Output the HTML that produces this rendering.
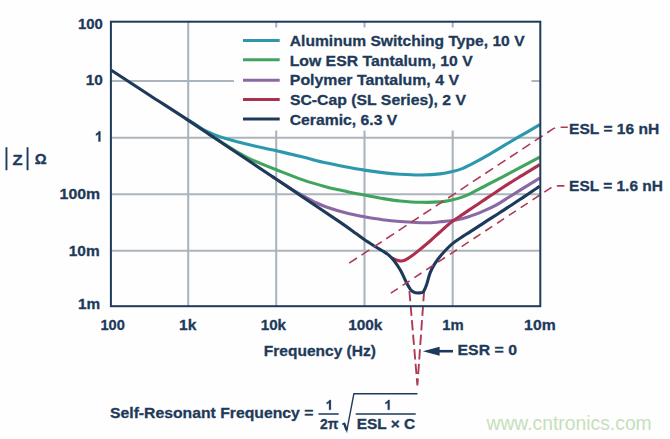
<!DOCTYPE html><html><head><meta charset="utf-8"><title>Impedance vs Frequency</title><style>html,body{margin:0;padding:0;background:#fefefe}svg{display:block}text{font-family:"Liberation Sans",sans-serif}</style></head><body>
<svg width="670" height="439" viewBox="0 0 670 439">
<rect width="670" height="439" fill="#fefefe"/>
<line x1="188.2" y1="21.7" x2="188.2" y2="306.2" stroke="#abb5bd" stroke-width="2.1"/>
<line x1="276.2" y1="21.7" x2="276.2" y2="306.2" stroke="#abb5bd" stroke-width="2.1"/>
<line x1="364.5" y1="21.7" x2="364.5" y2="306.2" stroke="#abb5bd" stroke-width="2.1"/>
<line x1="452.7" y1="21.7" x2="452.7" y2="306.2" stroke="#abb5bd" stroke-width="2.1"/>
<line x1="110.9" y1="81" x2="540.3" y2="81" stroke="#abb5bd" stroke-width="2.1"/>
<line x1="110.9" y1="137.8" x2="540.3" y2="137.8" stroke="#abb5bd" stroke-width="2.1"/>
<line x1="110.9" y1="194.2" x2="540.3" y2="194.2" stroke="#abb5bd" stroke-width="2.1"/>
<line x1="110.9" y1="250.8" x2="540.3" y2="250.8" stroke="#abb5bd" stroke-width="2.1"/>
<rect x="234" y="27.5" width="297.5" height="103" fill="#fefefe"/>
<path d="M409.4,291 L417.4,385.5 M424.1,291 L417.4,385.5" fill="none" stroke="#b03a55" stroke-width="1.9" stroke-dasharray="10.3 4.3"/>
<path d="M186.0,118.8 C187.3,119.5 190.9,121.4 193.7,123.2 C196.5,125.0 199.4,127.5 202.8,129.4 C206.2,131.3 210.4,133.1 214.2,134.6 C218.0,136.1 219.9,136.8 225.6,138.5 C231.3,140.2 240.0,142.6 248.3,144.6 C256.7,146.6 266.6,148.5 275.7,150.6 C284.8,152.7 294.5,155.1 302.8,157.1 C311.1,159.1 318.0,161.1 325.6,162.8 C333.2,164.5 341.9,166.1 348.3,167.3 C354.8,168.5 358.6,169.2 364.3,170.1 C370.0,171.0 376.6,171.9 382.5,172.6 C388.4,173.3 393.6,173.8 400.0,174.2 C406.4,174.6 414.3,175.1 421.0,175.0 C427.7,174.9 434.8,174.5 440.0,173.9 C445.2,173.3 448.7,172.5 452.5,171.6 C456.3,170.7 459.1,169.9 462.8,168.4 C466.5,166.9 470.4,164.8 474.9,162.4 C479.4,160.0 484.8,157.0 489.8,154.1 C494.8,151.2 499.7,148.2 504.7,145.2 C509.7,142.2 514.1,139.6 520.0,136.2 C525.9,132.8 536.5,126.5 539.8,124.6" fill="none" stroke="#2d98ad" stroke-width="3.1" stroke-linejoin="round"/>
<path d="M208.0,133.4 C209.0,134.1 212.2,136.2 214.0,137.3 C215.8,138.4 216.8,138.9 218.7,140.2 C220.6,141.5 222.6,142.9 225.6,144.9 C228.6,146.9 233.1,149.7 236.9,151.9 C240.7,154.1 244.5,156.2 248.3,158.1 C252.1,160.0 255.1,161.2 259.7,163.1 C264.3,165.0 268.5,166.7 275.7,169.5 C282.9,172.3 294.5,177.0 302.8,179.9 C311.1,182.8 318.0,184.7 325.6,186.7 C333.2,188.7 341.9,190.5 348.3,191.9 C354.8,193.3 358.6,194.0 364.3,195.1 C370.0,196.2 376.6,197.5 382.5,198.5 C388.4,199.5 393.6,200.4 400.0,201.0 C406.4,201.6 414.3,202.2 421.0,202.3 C427.7,202.5 434.8,202.3 440.0,201.9 C445.2,201.5 448.7,200.6 452.5,199.8 C456.3,199.0 459.9,197.9 462.8,196.9 C465.7,195.9 466.3,195.6 470.0,193.8 C473.7,192.0 480.4,188.3 485.0,186.0 C489.6,183.7 494.0,181.4 497.3,179.7 C500.6,178.0 501.2,177.6 505.0,175.6 C508.8,173.6 514.2,170.7 520.0,167.6 C525.8,164.5 536.5,158.8 539.8,157.1" fill="none" stroke="#41a45e" stroke-width="3.1" stroke-linejoin="round"/>
<path d="M272.0,176.4 C274.1,177.8 281.1,182.3 284.6,184.6 C288.1,186.9 290.0,188.2 293.0,190.0 C296.0,191.8 299.3,193.7 302.8,195.7 C306.3,197.7 310.4,200.0 314.2,201.8 C318.0,203.6 319.9,204.7 325.6,206.7 C331.3,208.7 341.9,211.9 348.3,213.6 C354.8,215.3 358.6,215.8 364.3,216.8 C370.0,217.8 376.6,218.9 382.5,219.7 C388.4,220.5 392.8,221.0 400.0,221.5 C407.2,222.0 418.9,222.8 425.6,222.8 C432.3,222.9 435.5,222.2 440.0,221.8 C444.5,221.4 448.7,221.1 452.5,220.5 C456.3,219.9 459.9,219.1 462.8,218.4 C465.7,217.7 467.0,217.2 470.0,216.2 C473.0,215.1 477.7,213.4 481.0,212.1 C484.3,210.8 486.8,209.8 490.0,208.2 C493.2,206.6 496.7,204.8 500.0,202.8 C503.3,200.9 505.8,199.1 510.0,196.5 C514.2,193.9 520.0,190.2 525.0,187.1 C530.0,184.0 537.3,179.5 539.8,178.0" fill="none" stroke="#8a68a3" stroke-width="3.1" stroke-linejoin="round"/>
<path d="M391.0,257.6 C391.9,258.0 394.7,259.3 396.5,259.9 C398.3,260.5 399.8,261.2 401.6,261.0 C403.4,260.8 404.8,260.2 407.3,258.8 C409.8,257.4 412.6,255.4 416.4,252.4 C420.2,249.4 426.2,244.4 430.1,241.0 C434.0,237.6 436.3,235.3 440.0,232.0 C443.7,228.7 448.7,224.2 452.5,221.3 C456.3,218.4 459.9,216.3 462.8,214.3 C465.7,212.3 467.1,211.3 470.0,209.4 C472.9,207.5 476.7,204.9 480.0,202.7 C483.3,200.5 486.7,198.2 490.0,196.0 C493.3,193.8 496.7,191.6 500.0,189.4 C503.3,187.2 505.8,185.5 510.0,182.9 C514.2,180.3 520.0,176.6 525.0,173.6 C530.0,170.6 537.3,166.2 539.8,164.7" fill="none" stroke="#ad2f4e" stroke-width="3.1" stroke-linejoin="round"/>
<path d="M111.3,70.3 C117.8,74.5 137.2,87.2 150.0,95.5 C162.8,103.8 174.7,111.3 188.0,120.1 C201.3,128.9 215.3,138.4 230.0,148.2 C244.7,158.0 264.3,171.2 276.0,179.0 C287.7,186.8 289.3,188.1 300.0,195.3 C310.7,202.5 330.6,215.7 340.0,222.1 C349.4,228.5 352.3,230.9 356.4,233.8 C360.5,236.8 361.6,237.7 364.6,239.8 C367.6,241.9 371.4,244.2 374.6,246.2 C377.8,248.2 381.4,250.1 383.8,251.6 C386.2,253.1 387.4,253.9 389.0,255.3 C390.6,256.7 391.8,257.8 393.7,260.2 C395.6,262.6 398.2,266.4 400.3,270.0 C402.4,273.6 404.5,278.7 406.2,282.0 C407.9,285.3 409.3,287.9 410.6,289.6 C411.9,291.3 412.9,291.8 414.2,292.3 C415.5,292.9 417.2,293.0 418.7,292.9 C420.2,292.8 422.0,293.2 423.3,291.8 C424.6,290.4 425.6,287.5 426.7,284.3 C427.8,281.1 428.8,276.3 430.1,272.9 C431.4,269.5 432.8,266.8 434.7,263.8 C436.6,260.8 438.5,258.1 441.5,254.7 C444.5,251.3 448.9,246.6 452.5,243.6 C456.1,240.6 459.9,238.3 462.8,236.4 C465.7,234.5 467.1,233.7 470.0,231.9 C472.9,230.1 476.7,227.6 480.0,225.4 C483.3,223.2 486.7,221.1 490.0,218.9 C493.3,216.8 496.7,214.7 500.0,212.5 C503.3,210.3 505.8,208.7 510.0,206.0 C514.2,203.3 520.0,199.4 525.0,196.1 C530.0,192.8 537.3,187.8 539.8,186.2" fill="none" stroke="#1e3a5a" stroke-width="3.1" stroke-linejoin="round"/>
<path d="M349.1,263.2 L553,128.9 Q556,127.3 560,127.3 L567.8,127.3" fill="none" stroke="#b03a55" stroke-width="1.6" stroke-dasharray="9.4 5.42"/>
<path d="M390.8,293.2 L550,188.4 Q553.5,185.9 558,185.9 L564.4,185.9" fill="none" stroke="#b03a55" stroke-width="1.6" stroke-dasharray="8.4 5.74"/>
<rect x="110.9" y="21.7" width="429.4" height="284.5" fill="none" stroke="#1e3a5a" stroke-width="2"/>
<line x1="243" y1="40.4" x2="279.7" y2="40.4" stroke="#2d98ad" stroke-width="3.0"/>
<line x1="243" y1="59.8" x2="279.7" y2="59.8" stroke="#41a45e" stroke-width="3.0"/>
<line x1="243" y1="80.2" x2="279.7" y2="80.2" stroke="#8a68a3" stroke-width="3.0"/>
<line x1="243" y1="99.4" x2="279.7" y2="99.4" stroke="#ad2f4e" stroke-width="3.0"/>
<line x1="243" y1="119" x2="279.7" y2="119" stroke="#1e3a5a" stroke-width="3.0"/>
<text transform="translate(289.77,45.9) scale(1.0145,1)" font-size="15.4" font-weight="bold" fill="#1e3a5a" stroke="#1e3a5a" stroke-width="0.3">Aluminum Switching Type, 10 V</text>
<text transform="translate(289.66,66) scale(1.0259,1)" font-size="15.4" font-weight="bold" fill="#1e3a5a" stroke="#1e3a5a" stroke-width="0.3">Low ESR Tantalum, 10 V</text>
<text transform="translate(289.81,85.1) scale(1.0326,1)" font-size="15.4" font-weight="bold" fill="#1e3a5a" stroke="#1e3a5a" stroke-width="0.3">Polymer Tantalum, 4 V</text>
<text transform="translate(289.88,105.1) scale(1.0261,1)" font-size="15.4" font-weight="bold" fill="#1e3a5a" stroke="#1e3a5a" stroke-width="0.3">SC-Cap (SL Series), 2 V</text>
<text transform="translate(289.74,124.7) scale(1.0224,1)" font-size="15.4" font-weight="bold" fill="#1e3a5a" stroke="#1e3a5a" stroke-width="0.3">Ceramic, 6.3 V</text>
<text transform="translate(77.99,28.9) scale(0.9684,1)" font-size="15.4" font-weight="bold" fill="#1e3a5a" stroke="#1e3a5a" stroke-width="0.3">100</text>
<text transform="translate(85.79,84.7) scale(1.0000,1)" font-size="15.4" font-weight="bold" fill="#1e3a5a" stroke="#1e3a5a" stroke-width="0.3">10</text>
<text transform="translate(59.58,198.6) scale(1.0307,1)" font-size="15.4" font-weight="bold" fill="#1e3a5a" stroke="#1e3a5a" stroke-width="0.3">100m</text>
<text transform="translate(68.77,255.5) scale(1.0021,1)" font-size="15.4" font-weight="bold" fill="#1e3a5a" stroke="#1e3a5a" stroke-width="0.3">10m</text>
<text transform="translate(77.92,308.6) scale(0.9989,1)" font-size="15.4" font-weight="bold" fill="#1e3a5a" stroke="#1e3a5a" stroke-width="0.3">1m</text>
<text transform="translate(100.47,330) scale(0.9516,1)" font-size="15.4" font-weight="bold" fill="#1e3a5a" stroke="#1e3a5a" stroke-width="0.3">100</text>
<text transform="translate(179.12,330) scale(1.0145,1)" font-size="15.4" font-weight="bold" fill="#1e3a5a" stroke="#1e3a5a" stroke-width="0.3">1k</text>
<text transform="translate(260.69,330) scale(0.9882,1)" font-size="15.4" font-weight="bold" fill="#1e3a5a" stroke="#1e3a5a" stroke-width="0.3">10k</text>
<text transform="translate(348.14,330) scale(1.0010,1)" font-size="15.4" font-weight="bold" fill="#1e3a5a" stroke="#1e3a5a" stroke-width="0.3">100k</text>
<text transform="translate(442.25,330) scale(0.9641,1)" font-size="15.4" font-weight="bold" fill="#1e3a5a" stroke="#1e3a5a" stroke-width="0.3">1m</text>
<text transform="translate(524.12,330) scale(1.0235,1)" font-size="15.4" font-weight="bold" fill="#1e3a5a" stroke="#1e3a5a" stroke-width="0.3">10m</text>
<text transform="translate(263.85,355.9) scale(1.0079,1)" font-size="15.4" font-weight="bold" fill="#1e3a5a" stroke="#1e3a5a" stroke-width="0.3">Frequency (Hz)</text>
<text transform="translate(457.50,355.4) scale(1.0306,1)" font-size="15.4" font-weight="bold" fill="#1e3a5a" stroke="#1e3a5a" stroke-width="0.3">ESR = 0</text>
<text transform="translate(569.09,133.8) scale(1.0121,1)" font-size="15.4" font-weight="bold" fill="#1e3a5a" stroke="#1e3a5a" stroke-width="0.3">ESL = 16 nH</text>
<text transform="translate(569.10,190.9) scale(1.0046,1)" font-size="15.4" font-weight="bold" fill="#1e3a5a" stroke="#1e3a5a" stroke-width="0.3">ESL = 1.6 nH</text>
<text transform="translate(12.51,164.7) scale(1.1280,1)" font-size="14.7" font-weight="bold" fill="#1e3a5a" stroke="#1e3a5a" stroke-width="0.3">Z</text>
<text transform="translate(34.77,164.3) scale(1.0162,1)" font-size="14.6" font-weight="bold" fill="#1e3a5a" stroke="#1e3a5a" stroke-width="0.3">Ω</text>
<text transform="translate(110.01,418) scale(1.0230,1)" font-size="15.4" font-weight="bold" fill="#1e3a5a" stroke="#1e3a5a" stroke-width="0.3">Self-Resonant Frequency =</text>
<text transform="translate(320.06,429.1) scale(0.9538,1)" font-size="14.6" font-weight="bold" fill="#1e3a5a" stroke="#1e3a5a" stroke-width="0.3">2π</text>
<text transform="translate(356.73,429.1) scale(1.0590,1)" font-size="14.6" font-weight="bold" fill="#1e3a5a" stroke="#1e3a5a" stroke-width="0.3">ESL × C</text>
<text transform="translate(486.49,429.7) scale(1.0009,1)" font-size="19.3" font-weight="normal" fill="#c6e0bb">www.cntronics.com</text>
<path d="M6.45,147.3V170.3M27.55,147.3V170.3" stroke="#1e3a5a" stroke-width="1.9"/>
<path d="M453,351.2H437" stroke="#1e3a5a" stroke-width="2.6"/><path d="M422.8,351.2L439.6,346.7V355.7Z" fill="#1e3a5a"/>
<path d="M100.40,141.50H98.46V134.08Q97.38,135.09 95.94,135.60V133.80Q96.73,133.54 97.66,132.82Q98.56,132.11 98.89,131.19H100.40Z" fill="#1e3a5a" stroke="#1e3a5a" stroke-width="0.3"/>
<path d="M330.90,409.70H329.06V402.70Q328.04,403.65 326.68,404.12V402.42Q327.43,402.18 328.32,401.50Q329.16,400.83 329.47,399.96H330.90Z" fill="#1e3a5a" stroke="#1e3a5a" stroke-width="0.3"/>
<path d="M389.60,409.70H387.76V402.70Q386.74,403.65 385.38,404.12V402.42Q386.13,402.18 387.02,401.50Q387.86,400.83 388.17,399.96H389.60Z" fill="#1e3a5a" stroke="#1e3a5a" stroke-width="0.3"/>
<path d="M318.4,414H338.7M355.7,414H415.7" stroke="#1e3a5a" stroke-width="1.6"/>
<path d="M342.2,424.3L344.2,423.2L346.8,430.6L353.9,393.7H417.5" fill="none" stroke="#1e3a5a" stroke-width="1.4" stroke-linejoin="miter"/>
<path d="M344.2,423.4L346.6,430.2" fill="none" stroke="#1e3a5a" stroke-width="2.4"/>
</svg></body></html>
